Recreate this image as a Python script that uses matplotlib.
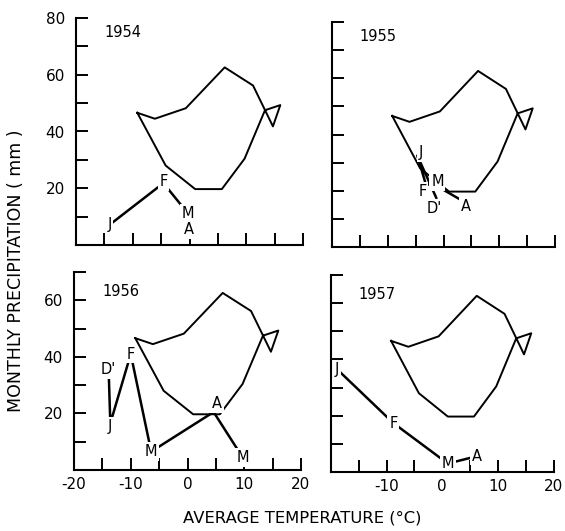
import matplotlib
matplotlib.use('Agg')
import matplotlib.pyplot as plt

plt.rcParams['font.family'] = ['DejaVu Sans']

# Long-term climatological loop (same in every panel): temperature (C), precipitation (mm)
clim_temp = [-9.2, -6.1, -0.65, 6.2, 11.2, 14.7, 16.0, 13.3, 9.7, 5.7, 1.0, -4.2]
clim_prec = [46.6, 44.5, 48.2, 62.6, 56.2, 41.8, 49.3, 47.5, 30.4, 19.7, 19.7, 28.0]

years = ['1954', '1955', '1956', '1957']

months_1954 = ['J', 'F', 'M', 'A']
temp_1954 = [-14.1, -4.6, -0.3, -0.1]
prec_1954 = [7.1, 21.8, 11.2, 5.3]

months_1955 = ["D'", 'J', 'F', 'M', 'A']
temp_1955 = [-1.3, -4.7, -3.2, -0.6, 3.6]
prec_1955 = [17.5, 32.5, 22.5, 21.0, 16.2]

months_1956 = ["D'", 'J', 'F', 'M', 'A', 'M']
temp_1956 = [-13.9, -13.6, -10.0, -6.4, 4.6, 9.7]
prec_1956 = [35.5, 16.5, 41.0, 6.5, 20.5, 4.5]

months_1957 = ['J', 'F', 'M', 'A']
temp_1957 = [-18.9, -8.8, 1.0, 6.2]
prec_1957 = [36.5, 17.4, 3.0, 5.6]

x_ticklabels = ['-20', '-10', '0', '10', '20']

# ---- layout / style (not data) ----
W, H = 565, 531
boxes = {  # left, top, right, bottom in pixels
    '1954': (76, 18, 303, 245),
    '1955': (332, 22, 555, 247),
    '1956': (74, 272, 301, 470),
    '1957': (331, 275, 553.5, 472),
}
ytop = {'1954': 80, '1955': 80, '1956': 70, '1957': 70}
label_offsets = {  # offset points of month labels
    '1954': [(0, 0), (0, 1), (0, 0), (0, 0)],
    '1955': [(-1.8, -7.5), (2.4, 2.0), (-2.4, -5.5), (-2.0, 4.7), (1.6, -3.7)],
    '1956': [(0, 0), (0, -2), (0, 0), (0, 0), (2.4, 5.9), (0, 0)],
    '1957': [(0, 0), (0, 0), (0, 0), (0, 0)],
}
series = {
    '1954': (months_1954, temp_1954, prec_1954),
    '1955': (months_1955, temp_1955, prec_1955),
    '1956': (months_1956, temp_1956, prec_1956),
    '1957': (months_1957, temp_1957, prec_1957),
}

fig = plt.figure(figsize=(W / 100, H / 100), dpi=100)

for yr in years:
    l, t, r, b = boxes[yr]
    ax = fig.add_axes([l / W, 1 - b / H, (r - l) / W, (b - t) / H])
    ax.set_xlim(-20, 20)
    ax.set_ylim(0, ytop[yr])
    for s in ['top', 'right']:
        ax.spines[s].set_visible(False)
    for s in ['left', 'bottom']:
        ax.spines[s].set_linewidth(1.5)

    # climatological loop
    ax.plot(clim_temp + clim_temp[:1], clim_prec + clim_prec[:1],
            color='black', lw=1.4, zorder=2)

    months, tt, pp = series[yr]
    ax.plot(tt, pp, color='black', lw=1.8, zorder=2)
    for m, x, y, off in zip(months, tt, pp, label_offsets[yr]):
        ax.annotate(m, xy=(x, y), xytext=off, textcoords='offset points',
                    ha='center', va='center', fontsize=10.5, zorder=2.3,
                    bbox=dict(boxstyle='square,pad=0.12', fc='white', ec='none'))

    ax.text(-15, ytop[yr] - (5 if ytop[yr] == 80 else 7), yr,
            ha='left', va='center', fontsize=10.5)

    # ticks
    ax.set_xticks([-20, -10, 0, 10, 20])
    ax.set_xticks([-15, -5, 5, 15], minor=True)
    yt = list(range(20, ytop[yr] + 1, 20))
    ax.set_yticks(yt)
    ax.set_yticks(list(range(10, ytop[yr] + 1, 20)), minor=True)
    ax.tick_params(which='both', direction='in', length=8.5, width=1.4,
                   labelsize=11)
    ax.tick_params(axis='y', pad=8)
    ax.tick_params(axis='x', pad=5)
    if yr in ('1954', '1955'):
        ax.set_xticklabels([])
    elif yr == '1956':
        ax.set_xticklabels(x_ticklabels)
    else:
        ax.set_xticklabels([''] + x_ticklabels[1:])
    if yr in ('1954', '1956'):
        ax.set_yticklabels([str(v) for v in yt])
    else:
        ax.set_yticklabels([])

fig.text(16 / W, 1 - 271 / H, 'MONTHLY PRECIPITATION ( mm )', rotation=90,
         ha='center', va='center', fontsize=12.5)
fig.text(302 / W, 1 - 518 / H, 'AVERAGE TEMPERATURE (°C)',
         ha='center', va='center', fontsize=11.8)

fig.savefig('out.png', dpi=100)
